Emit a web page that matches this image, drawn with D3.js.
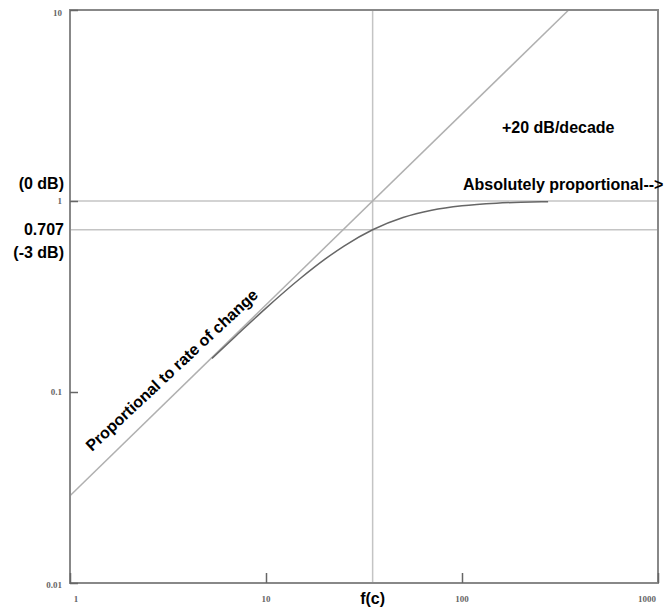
<!DOCTYPE html>
<html lang="en">
<head>
<meta charset="utf-8">
<title>High-pass response</title>
<script src="https://cdn.jsdelivr.net/npm/d3@7"></script>
<style>
  body { margin: 0; background: #fff; }
  .lbl { font-family: "Liberation Sans", Arial, sans-serif; font-size: 16px; font-weight: bold; fill: #000; }
  .tick { font-family: "Liberation Serif", "DejaVu Serif", serif; font-size: 9px; font-weight: bold; fill: #666; }
</style>
</head>
<body>
<script>
// data
var xTicks = [1, 10, 100, 1000];
var yTicks = [0.01, 0.1, 1, 10];
var fc = 35;                       // corner frequency f(c)
var refLevels = [1, 0.707];        // 0 dB and -3 dB lines
var asymFreq = [1, 350];           // +20 dB/decade asymptote
var asymGain = [0.0286, 10];
var curveFreq = [5.3, 7, 10, 15, 20, 25, 35, 50, 70, 100, 150, 200, 275];
var curveGain = [0.150, 0.196, 0.275, 0.394, 0.496, 0.581, 0.707, 0.819, 0.894, 0.944, 0.974, 0.985, 0.992];

var w = 671, h = 611;
var mLeft = 70, mRight = 658, mTop = 10, mBottom = 583;

var svg = d3.select("body").append("svg")
    .attr("width", w)
    .attr("height", h);

var x = d3.scaleLog().domain([1, 1000]).range([mLeft, mRight]);
var y = d3.scaleLog().domain([0.01, 10]).range([mBottom, mTop]);

// reference lines
svg.selectAll("line.ref")
    .data(refLevels)
    .enter().append("line")
    .attr("x1", mLeft).attr("x2", mRight)
    .attr("y1", function(d){ return y(d); })
    .attr("y2", function(d){ return y(d); })
    .attr("stroke", "#c4c4c4").attr("stroke-width", 1.5);

svg.append("line")
    .attr("x1", x(fc)).attr("x2", x(fc))
    .attr("y1", mTop).attr("y2", mBottom)
    .attr("stroke", "#c4c4c4").attr("stroke-width", 1.5);

// asymptote
var line = d3.line()
    .x(function(d){ return x(d[0]); })
    .y(function(d){ return y(d[1]); });

svg.append("path")
    .datum(d3.zip(asymFreq, asymGain))
    .attr("d", line)
    .attr("fill", "none")
    .attr("stroke", "#b0b0b0")
    .attr("stroke-width", 1.5);

// response curve
svg.append("path")
    .datum(d3.zip(curveFreq, curveGain))
    .attr("d", line.curve(d3.curveMonotoneX))
    .attr("fill", "none")
    .attr("stroke", "#666")
    .attr("stroke-width", 1.5);

// frame
svg.append("rect")
    .attr("x", mLeft).attr("y", mTop)
    .attr("width", mRight - mLeft).attr("height", mBottom - mTop)
    .attr("fill", "none")
    .attr("stroke", "#888")
    .attr("stroke-width", 2);

// axes with inner ticks
var xAxis = d3.axisBottom(x).tickValues(xTicks).tickSize(-10).tickFormat("");
var yAxis = d3.axisLeft(y).tickValues(yTicks).tickSize(-8).tickFormat("");
svg.append("g").attr("transform", "translate(0," + mBottom + ")").call(xAxis)
    .call(function(g){ g.select(".domain").remove(); g.selectAll("line").attr("stroke", "#666").attr("stroke-width", 1.5); });
svg.append("g").attr("transform", "translate(" + mLeft + ",0)").call(yAxis)
    .call(function(g){ g.select(".domain").remove(); g.selectAll("line").attr("stroke", "#666").attr("stroke-width", 1.5); });

// tick labels
svg.selectAll("text.xt")
    .data(xTicks)
    .enter().append("text")
    .attr("class", "tick")
    .attr("x", function(d, i){ return x(d) + (i == 0 ? 6 : (i == xTicks.length - 1 ? -11 : 0)); })
    .attr("y", 602)
    .attr("text-anchor", "middle")
    .text(function(d){ return d; });

svg.selectAll("text.yt")
    .data(yTicks)
    .enter().append("text")
    .attr("class", "tick")
    .attr("x", 62)
    .attr("y", function(d, i){ return y(d) + (i == 0 ? 5 : (i == yTicks.length - 1 ? 6 : 3)); })
    .attr("text-anchor", "end")
    .text(function(d){ return d; });

// annotations
svg.append("text").attr("class", "lbl")
    .attr("x", x(fc)).attr("y", 604).attr("text-anchor", "middle")
    .text("f(c)");

svg.append("text").attr("class", "lbl")
    .attr("x", 64).attr("y", 189).attr("text-anchor", "end")
    .text("(0 dB)");
svg.append("text").attr("class", "lbl")
    .attr("x", 64).attr("y", 235).attr("text-anchor", "end")
    .text("0.707");
svg.append("text").attr("class", "lbl")
    .attr("x", 64).attr("y", 258).attr("text-anchor", "end")
    .text("(-3 dB)");

svg.append("text").attr("class", "lbl")
    .attr("x", 502).attr("y", 133)
    .text("+20 dB/decade");

svg.append("text").attr("class", "lbl")
    .attr("x", 463).attr("y", 190)
    .text("Absolutely proportional-->");

svg.append("text").attr("class", "lbl")
    .attr("transform", "translate(92,452) rotate(-43)")
    .text("Proportional to rate of change");
</script>
</body>
</html>
